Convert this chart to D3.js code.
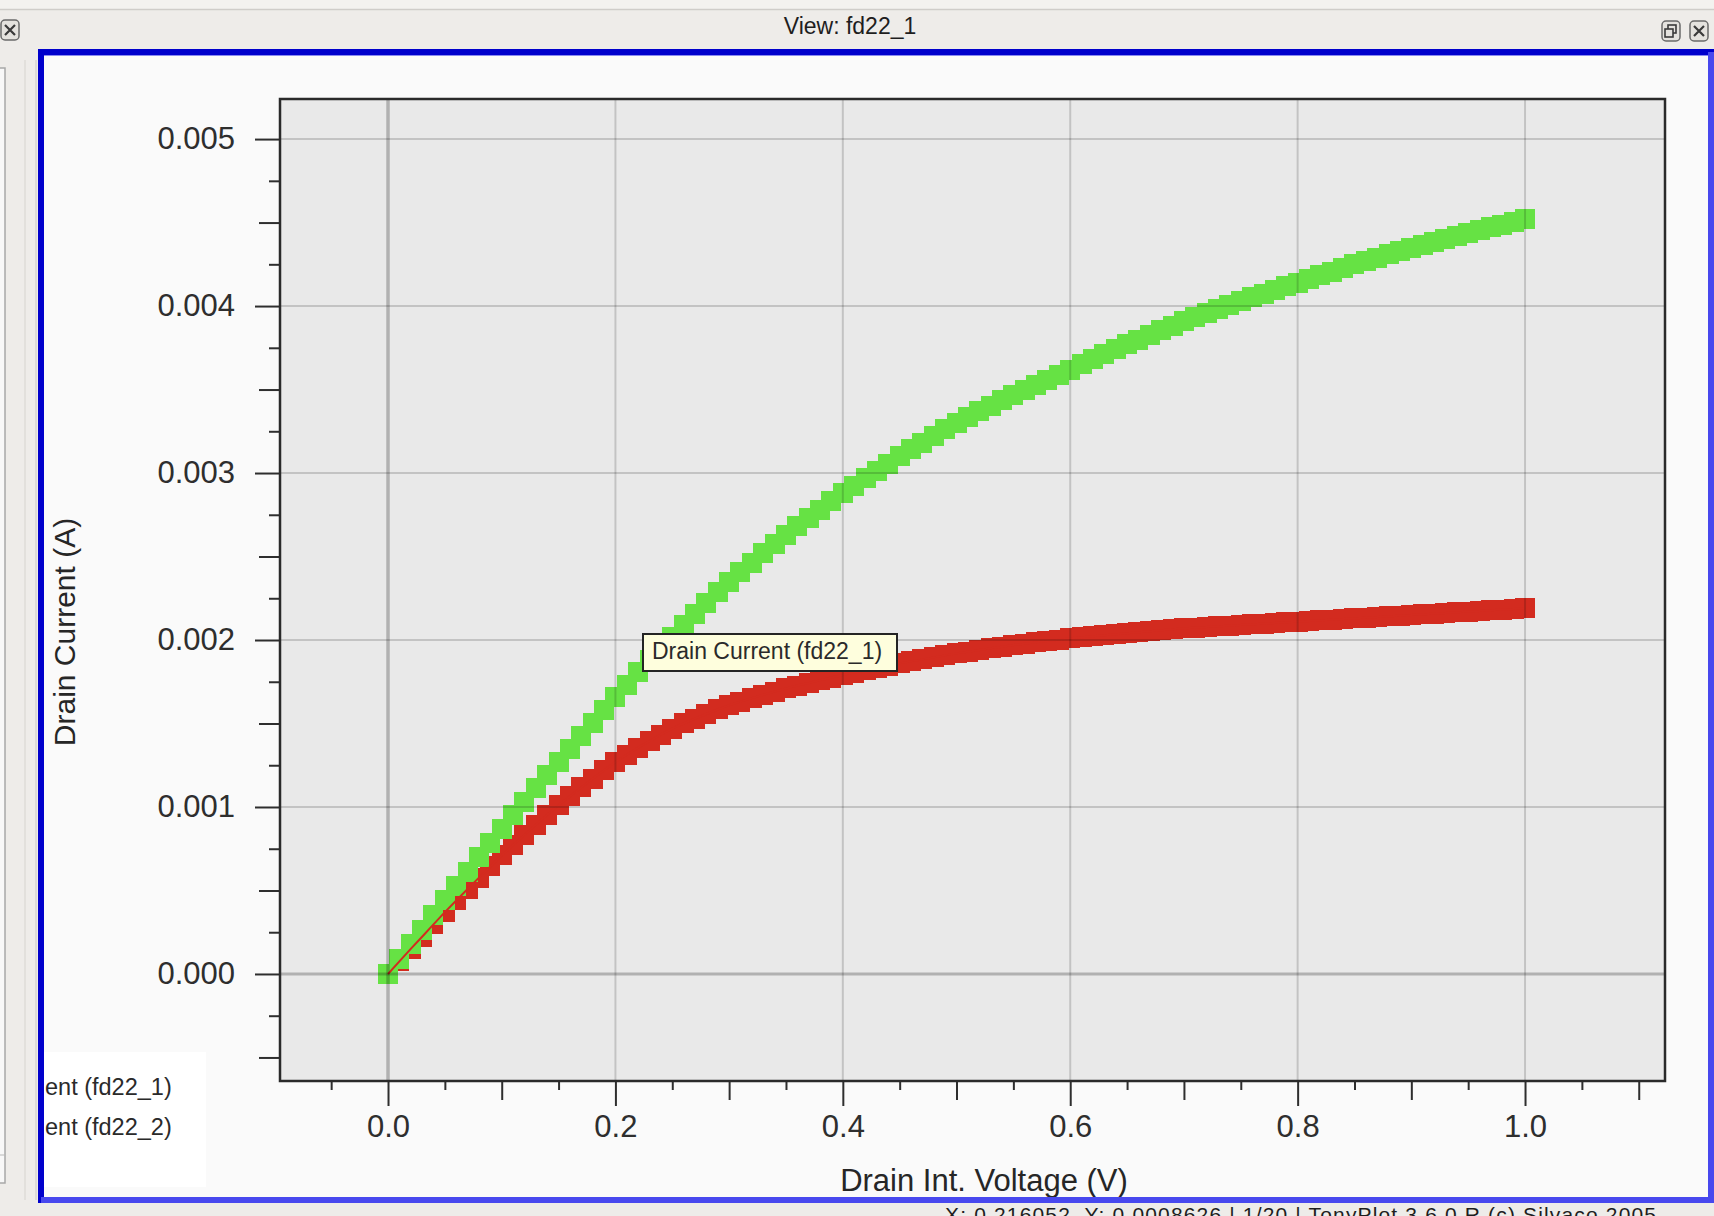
<!DOCTYPE html>
<html><head><meta charset="utf-8">
<script src="https://cdn.jsdelivr.net/npm/d3@7"></script>
<style>
html,body{margin:0;padding:0;background:#eeece9;overflow:hidden;}
svg{display:block;}
text{font-family:"Liberation Sans",Arial,Helvetica,sans-serif;}
</style></head><body>
<svg id="c" width="1714" height="1216"></svg>
<script>
// ---------------- data ----------------
const voltage = [
 0.00,0.01,0.02,0.03,0.04,0.05,0.06,0.07,0.08,0.09,
 0.10,0.11,0.12,0.13,0.14,0.15,0.16,0.17,0.18,0.19,
 0.20,0.21,0.22,0.23,0.24,0.25,0.26,0.27,0.28,0.29,
 0.30,0.31,0.32,0.33,0.34,0.35,0.36,0.37,0.38,0.39,
 0.40,0.41,0.42,0.43,0.44,0.45,0.46,0.47,0.48,0.49,
 0.50,0.51,0.52,0.53,0.54,0.55,0.56,0.57,0.58,0.59,
 0.60,0.61,0.62,0.63,0.64,0.65,0.66,0.67,0.68,0.69,
 0.70,0.71,0.72,0.73,0.74,0.75,0.76,0.77,0.78,0.79,
 0.80,0.81,0.82,0.83,0.84,0.85,0.86,0.87,0.88,0.89,
 0.90,0.91,0.92,0.93,0.94,0.95,0.96,0.97,0.98,0.99,
 1.00];
// Drain Current (fd22_1) — green
const currentFd22_1 = [
 0,0.000089,0.000178,0.000266,0.000353,
 0.00044,0.000527,0.000613,0.000699,0.000785,
 0.00087,0.000951,0.001032,0.001112,0.001191,
 0.00127,0.001348,0.001426,0.001504,0.001582,
 0.00166,0.001733,0.001806,0.001878,0.001949,
 0.00202,0.002087,0.002154,0.00222,0.002285,
 0.00235,0.002407,0.002463,0.002519,0.002575,
 0.00263,0.002681,0.002731,0.002781,0.002831,
 0.00288,0.002925,0.002969,0.003013,0.003057,
 0.0031,0.003141,0.003181,0.003221,0.003261,
 0.0033,0.003335,0.003369,0.003403,0.003437,
 0.00347,0.0035,0.00353,0.00356,0.00359,
 0.00362,0.00365,0.00368,0.00371,0.00374,
 0.00377,0.003798,0.003826,0.003854,0.003882,
 0.00391,0.003934,0.003958,0.003982,0.004006,
 0.00403,0.004052,0.004074,0.004096,0.004118,
 0.00414,0.004162,0.004184,0.004206,0.004228,
 0.00425,0.00427,0.00429,0.00431,0.00433,
 0.00435,0.004368,0.004386,0.004404,0.004422,
 0.00444,0.004456,0.004472,0.004488,0.004504,
 0.00452];
// Drain Current (fd22_2) — red
const currentFd22_2 = [
 0,0.000075,0.00015,0.000223,0.000297,
 0.00037,0.00044,0.000509,0.000577,0.000644,
 0.00071,0.000772,0.000833,0.000894,0.000953,
 0.00101,0.001064,0.001117,0.001169,0.00122,
 0.00127,0.001313,0.001355,0.001395,0.001433,
 0.00147,0.0015,0.001529,0.001557,0.001584,
 0.00161,0.001631,0.001652,0.001672,0.001691,
 0.00171,0.001727,0.001743,0.001759,0.001775,
 0.00179,0.001805,0.001819,0.001833,0.001847,
 0.00186,0.001872,0.001884,0.001896,0.001908,
 0.00192,0.00193,0.00194,0.00195,0.00196,
 0.00197,0.001978,0.001986,0.001994,0.002002,
 0.00201,0.002016,0.002022,0.002028,0.002034,
 0.00204,0.002046,0.002052,0.002058,0.002064,
 0.00207,0.002074,0.002078,0.002082,0.002086,
 0.00209,0.002094,0.002098,0.002102,0.002106,
 0.00211,0.002114,0.002118,0.002122,0.002126,
 0.00213,0.002134,0.002138,0.002142,0.002146,
 0.00215,0.002154,0.002158,0.002162,0.002166,
 0.00217,0.002174,0.002178,0.002182,0.002186,
 0.00219];
const seriesNames = ["Drain Current (fd22_1)", "Drain Current (fd22_2)"];
const seriesColors = ["#66e244", "#d32b1f"];
const xMajorTicks = [0.0, 0.2, 0.4, 0.6, 0.8, 1.0];
const xTickLabels = ["0.0", "0.2", "0.4", "0.6", "0.8", "1.0"];
const xMediumTicks = [0.1, 0.3, 0.5, 0.7, 0.9, 1.1];
const xMinorTicks = [-0.05, 0.05, 0.15, 0.25, 0.35, 0.45, 0.55, 0.65, 0.75, 0.85, 0.95, 1.05];
const yMajorTicks = [0.000, 0.001, 0.002, 0.003, 0.004, 0.005];
const yTickLabels = ["0.000", "0.001", "0.002", "0.003", "0.004", "0.005"];
const yMediumTicks = [-0.0005, 0.0005, 0.0015, 0.0025, 0.0035, 0.0045];
const yMinorTicks = [-0.00025, 0.00025, 0.00075, 0.00125, 0.00175, 0.00225, 0.00275, 0.00325, 0.00375, 0.00425, 0.00475];
const xTitle = "Drain Int. Voltage (V)";
const yTitle = "Drain Current (A)";
const windowTitle = "View: fd22_1";
const tooltipText = "Drain Current (fd22_1)";
const legendTexts = ["ent (fd22_1)", "ent (fd22_2)"];
const statusText = "X: 0.216052, Y: 0.0008626 |        1/20 |   TonyPlot 3.6.0.R (c) Silvaco 2005";

// ---------------- layout ----------------
const svg = d3.select("#c");
const P = {left: 280, right: 1665, top: 99, bottom: 1081};
const x = d3.scaleLinear().domain([-0.095, 1.1231]).range([P.left, P.right]);
const y = d3.scaleLinear().domain([-0.000641, 0.00524]).range([P.bottom, P.top]);

// window chrome
svg.append("rect").attr("x",0).attr("y",0).attr("width",1714).attr("height",1216).attr("fill","#eeece9");
svg.append("rect").attr("x",0).attr("y",0).attr("width",1714).attr("height",9).attr("fill","#f3f2ef");
svg.append("line").attr("x1",0).attr("x2",1714).attr("y1",9.5).attr("y2",9.5).attr("stroke","#cfcdc9").attr("stroke-width",1.5);
svg.append("text").attr("x",850).attr("y",34).attr("text-anchor","middle")
  .attr("font-size",23).attr("fill","#1e1e1e").text(windowTitle);

function closeIcon(cx, cy){
  const g = svg.append("g");
  g.append("rect").attr("x",cx-9).attr("y",cy-10).attr("width",18).attr("height",20).attr("rx",4)
    .attr("fill","#e4e2de").attr("stroke","#6a6a6a").attr("stroke-width",1.5);
  g.append("path").attr("d",`M${cx-5},${cy-5}L${cx+5},${cy+5}M${cx+5},${cy-5}L${cx-5},${cy+5}`)
    .attr("stroke","#3a3a3a").attr("stroke-width",2.2);
}
function restoreIcon(cx, cy){
  const g = svg.append("g");
  g.append("rect").attr("x",cx-9).attr("y",cy-10).attr("width",18).attr("height",20).attr("rx",4)
    .attr("fill","#e4e2de").attr("stroke","#6a6a6a").attr("stroke-width",1.5);
  g.append("rect").attr("x",cx-3).attr("y",cy-6).attr("width",8).attr("height",8).attr("fill","none").attr("stroke","#3a3a3a").attr("stroke-width",1.6);
  g.append("rect").attr("x",cx-6).attr("y",cy-2).attr("width",8).attr("height",8).attr("fill","#e4e2de").attr("stroke","#3a3a3a").attr("stroke-width",1.6);
}
closeIcon(10, 30);
restoreIcon(1671, 31);
closeIcon(1699, 31);

// left side panel
svg.append("rect").attr("x",-2).attr("y",68).attr("width",7).attr("height",1115).attr("fill","#f8f8f8").attr("stroke","#a8a8a8").attr("stroke-width",1.5);
svg.append("line").attr("x1",-2).attr("x2",5).attr("y1",1155).attr("y2",1155).attr("stroke","#b8b8b8");
svg.append("line").attr("x1",25).attr("x2",25).attr("y1",60).attr("y2",1200).attr("stroke","#e2e0dc").attr("stroke-width",2);
svg.append("line").attr("x1",36).attr("x2",36).attr("y1",60).attr("y2",1200).attr("stroke","#d6d4d0").attr("stroke-width",1.5);

// frame
svg.append("rect").attr("x",38).attr("y",49).attr("width",1676).attr("height",1154).attr("fill","#fafafa");
const defs = svg.append("defs");
defs.append("clipPath").attr("id","inner").append("rect").attr("x",44).attr("y",55).attr("width",1664).attr("height",1142);

const inner = svg.append("g").attr("clip-path","url(#inner)");

// legend box (partially hidden by the frame)
inner.append("rect").attr("x",44).attr("y",1052).attr("width",162).attr("height",135).attr("fill","#ffffff");
inner.selectAll("text.leg").data(legendTexts).enter().append("text").attr("class","leg")
  .attr("x",45).attr("y",(d,i)=>1095 + i*40)
  .attr("font-size",23.5).attr("fill","#2a2a2a").text(d=>d);

// plot background
inner.append("rect").attr("x",P.left).attr("y",P.top).attr("width",P.right-P.left).attr("height",P.bottom-P.top).attr("fill","#e9e9e9");

// series markers
const plot = inner.append("g");
const series = [
  {name: seriesNames[1], values: currentFd22_2, color: seriesColors[1]},
  {name: seriesNames[0], values: currentFd22_1, color: seriesColors[0]}
];
const M = 20;
series.forEach(s => {
  plot.append("g").attr("shape-rendering","crispEdges").selectAll("rect").data(voltage).enter().append("rect")
    .attr("x", (d)=> Math.round(x(d) - M/2))
    .attr("y", (d,i)=> Math.round(y(s.values[i]) - M/2))
    .attr("width", M).attr("height", M).attr("fill", s.color);
});
// thin trace line of fd22_2 (only shows where it crosses the green markers)
const lineGen = d3.line().x((d)=>x(d[0])).y((d)=>y(d[1]));
plot.append("path").datum(voltage.map((v,i)=>[v, currentFd22_2[i]]))
  .attr("d", lineGen).attr("fill","none").attr("stroke",seriesColors[1]).attr("stroke-width",2);

// grid lines (on top, translucent)
const grid = inner.append("g");
grid.selectAll("line.gx").data(xMajorTicks).enter().append("line")
  .attr("x1",d=>x(d)).attr("x2",d=>x(d)).attr("y1",P.top).attr("y2",P.bottom)
  .attr("stroke", d=> d===0 ? "rgba(0,0,0,0.24)" : "rgba(0,0,0,0.16)")
  .attr("stroke-width", d=> d===0 ? 3.5 : 2);
grid.selectAll("line.gy").data(yMajorTicks).enter().append("line")
  .attr("y1",d=>y(d)).attr("y2",d=>y(d)).attr("x1",P.left).attr("x2",P.right)
  .attr("stroke", d=> d===0 ? "rgba(0,0,0,0.24)" : "rgba(0,0,0,0.16)")
  .attr("stroke-width", d=> d===0 ? 3 : 2);

// axes
function styleAxis(g){
  g.select(".domain").remove();
  g.selectAll(".tick line").attr("stroke","#2e2e2e").attr("stroke-width",2);
  g.selectAll(".tick text").attr("fill","#2e2e2e").attr("font-size",31)
    .attr("font-family",'"Liberation Sans",Arial,sans-serif');
}
const gx = inner.append("g").attr("transform",`translate(0,${P.bottom})`);
gx.append("g").call(d3.axisBottom(x).tickValues(xMajorTicks).tickSize(25).tickPadding(9)
  .tickFormat((d,i)=>xTickLabels[i])).call(styleAxis);
gx.append("g").call(d3.axisBottom(x).tickValues(xMediumTicks).tickSize(19).tickFormat("")).call(styleAxis);
gx.append("g").call(d3.axisBottom(x).tickValues(xMinorTicks).tickSize(9).tickFormat("")).call(styleAxis);

const gy = inner.append("g").attr("transform",`translate(${P.left},0)`);
gy.append("g").call(d3.axisLeft(y).tickValues(yMajorTicks).tickSize(25).tickPadding(20)
  .tickFormat((d,i)=>yTickLabels[i])).call(styleAxis);
gy.append("g").call(d3.axisLeft(y).tickValues(yMediumTicks).tickSize(21).tickFormat("")).call(styleAxis);
gy.append("g").call(d3.axisLeft(y).tickValues(yMinorTicks).tickSize(11).tickFormat("")).call(styleAxis);

// plot border
inner.append("rect").attr("x",P.left).attr("y",P.top).attr("width",P.right-P.left).attr("height",P.bottom-P.top)
  .attr("fill","none").attr("stroke","#2a2a2a").attr("stroke-width",2.5);

// axis titles
inner.append("text").attr("x",984).attr("y",1191).attr("text-anchor","middle")
  .attr("font-size",31).attr("fill","#262626").text(xTitle);
inner.append("text").attr("transform","translate(75,632) rotate(-90)").attr("text-anchor","middle")
  .attr("font-size",30).attr("fill","#262626").text(yTitle);

// tooltip
const tt = inner.append("g");
tt.append("rect").attr("x",643).attr("y",634).attr("width",254).attr("height",37)
  .attr("fill","#fefedd").attr("stroke","#242424").attr("stroke-width",2);
tt.append("text").attr("x",652).attr("y",659).attr("font-size",23).attr("fill","#2a2a2a").text(tooltipText);

// blue frame border
svg.append("rect").attr("x",38).attr("y",49).attr("width",1676).attr("height",6).attr("fill","#0000cc");
svg.append("rect").attr("x",38).attr("y",49).attr("width",6).attr("height",1154).attr("fill","#0000cc");
svg.append("rect").attr("x",1708).attr("y",52).attr("width",6).attr("height",1151).attr("fill","#4848ee");
svg.append("rect").attr("x",41).attr("y",1197).attr("width",1673).attr("height",6).attr("fill","#4848ee");
svg.append("line").attr("x1",44).attr("x2",1708).attr("y1",55.5).attr("y2",55.5).attr("stroke","#8a8af0").attr("stroke-width",1);

// status bar (partly below the window edge, as in the original screenshot)
svg.append("text").attr("x",945).attr("y",1222).attr("font-size",21).attr("fill","#1e1e1e")
  .attr("textLength",711).attr("lengthAdjust","spacing").text(statusText);
</script>
</body></html>
